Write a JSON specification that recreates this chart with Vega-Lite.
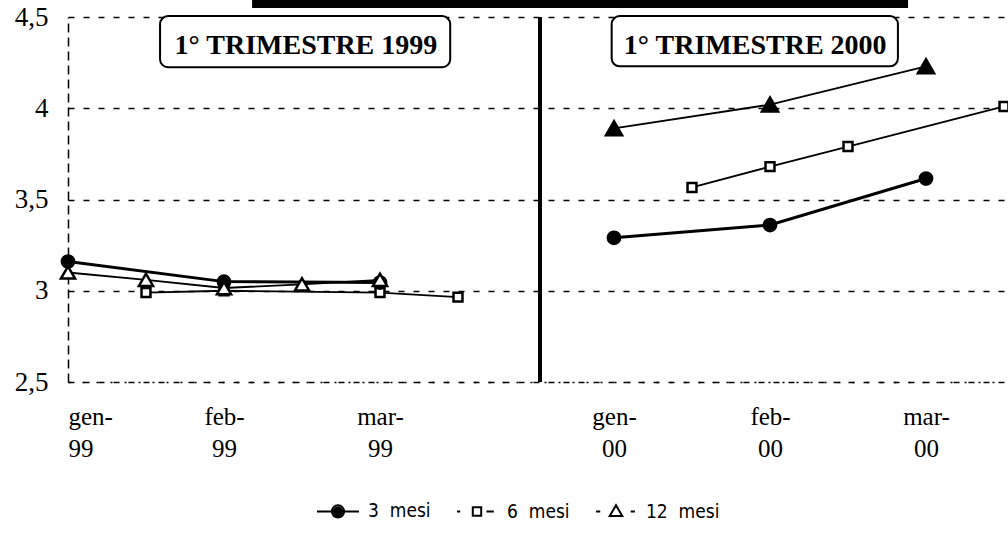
{
  "$schema": "https://vega.github.io/schema/vega-lite/v6.json",
  "width": 936,
  "height": 365,
  "autosize": {"type": "none"},
  "padding": {"left": 68, "top": 17, "right": 4, "bottom": 153},
  "background": "white",
  "config": {"view": {"stroke": null}, "font": "Liberation Serif"},
  "data": {
    "values": [
      {"serie": "6 mesi", "anno": "1999", "t": 1, "v": 2.99},
      {"serie": "6 mesi", "anno": "1999", "t": 2, "v": 3.0},
      {"serie": "6 mesi", "anno": "1999", "t": 4, "v": 2.99},
      {"serie": "6 mesi", "anno": "1999", "t": 5, "v": 2.965},
      {"serie": "6 mesi", "anno": "2000", "t": 8, "v": 3.566},
      {"serie": "6 mesi", "anno": "2000", "t": 9, "v": 3.68},
      {"serie": "6 mesi", "anno": "2000", "t": 10, "v": 3.79},
      {"serie": "6 mesi", "anno": "2000", "t": 12, "v": 4.01},
      {"serie": "3 mesi", "anno": "1999", "t": 0, "v": 3.16},
      {"serie": "3 mesi", "anno": "1999", "t": 2, "v": 3.05},
      {"serie": "3 mesi", "anno": "1999", "t": 4, "v": 3.045},
      {"serie": "3 mesi", "anno": "2000", "t": 7, "v": 3.29},
      {"serie": "3 mesi", "anno": "2000", "t": 9, "v": 3.36},
      {"serie": "3 mesi", "anno": "2000", "t": 11, "v": 3.615},
      {"serie": "12 mesi", "anno": "1999", "t": 0, "v": 3.1},
      {"serie": "12 mesi", "anno": "1999", "t": 1, "v": 3.06},
      {"serie": "12 mesi", "anno": "1999", "t": 2, "v": 3.015},
      {"serie": "12 mesi", "anno": "1999", "t": 3, "v": 3.035},
      {"serie": "12 mesi", "anno": "1999", "t": 4, "v": 3.06},
      {"serie": "12 mesi", "anno": "2000", "t": 7, "v": 3.89},
      {"serie": "12 mesi", "anno": "2000", "t": 9, "v": 4.02},
      {"serie": "12 mesi", "anno": "2000", "t": 11, "v": 4.23}
    ]
  },
  "layer": [
    {
      "mark": {"type": "line", "color": "black"},
      "encoding": {
        "x": {
          "field": "t", "type": "quantitative",
          "scale": {"domain": [0, 12], "nice": false, "zero": false},
          "axis": {
            "title": null,
            "values": [0, 2, 4, 7, 9, 11],
            "labelExpr": "datum.value==0?['gen-','99']:datum.value==2?['feb-','99']:datum.value==4?['mar-','99']:datum.value==7?['gen-','00']:datum.value==9?['feb-','00']:['mar-','00']",
            "labelFont": "Liberation Serif",
            "labelFontSize": 25,
            "labelLineHeight": 32,
            "labelColor": "black",
            "labelPadding": 22,
            "labelFlush": true,
            "ticks": false,
            "grid": false,
            "domainColor": "black",
            "domainDash": [2, 12],
            "domainWidth": 1.5
          }
        },
        "y": {
          "field": "v", "type": "quantitative",
          "scale": {"domain": [2.5, 4.5], "nice": false, "zero": false},
          "axis": {
            "title": null,
            "values": [2.5, 3, 3.5, 4, 4.5],
            "labelExpr": "replace(toString(datum.value), '.', ',')",
            "labelFont": "Liberation Serif",
            "labelFontSize": 27,
            "labelColor": "black",
            "labelPadding": 20,
            "ticks": false,
            "domainColor": "black",
            "domainDash": [9, 5],
            "domainWidth": 1.5,
            "grid": true,
            "gridColor": "black",
            "gridDash": [6, 9],
            "gridWidth": 1.5
          }
        },
        "detail": [{"field": "serie", "type": "nominal"}, {"field": "anno", "type": "nominal"}],
        "strokeWidth": {
          "condition": {"test": "datum.serie === '3 mesi'", "value": 3},
          "value": 1.8
        }
      }
    },
    {
      "mark": {"type": "rule", "color": "black", "strokeWidth": 2.5},
      "encoding": {"x": {"datum": 6.05}}
    },
    {
      "data": {"values": [{"k": 1}]},
      "mark": {"type": "rule", "color": "black", "strokeWidth": 8, "clip": false},
      "encoding": {"x": {"datum": 2.36}, "x2": {"datum": 10.77}, "y": {"datum": 4.571}}
    },
    {
      "data": {"values": [{"k": 1}]},
      "mark": {"type": "rect", "fill": "white", "stroke": "black", "strokeWidth": 2, "cornerRadius": 8},
      "encoding": {"x": {"datum": 1.18}, "x2": {"datum": 4.9}, "y": {"datum": 4.505}, "y2": {"datum": 4.225}}
    },
    {
      "data": {"values": [{"k": 1}]},
      "mark": {"type": "rect", "fill": "white", "stroke": "black", "strokeWidth": 2, "cornerRadius": 8},
      "encoding": {"x": {"datum": 6.97}, "x2": {"datum": 10.64}, "y": {"datum": 4.505}, "y2": {"datum": 4.23}}
    },
    {
      "data": {"values": [{"testo": "1° TRIMESTRE 1999"}]},
      "mark": {"type": "text", "font": "Liberation Serif", "fontWeight": "bold", "fontSize": 28, "baseline": "alphabetic", "align": "center", "color": "black"},
      "encoding": {"x": {"datum": 3.05}, "y": {"datum": 4.3}, "text": {"field": "testo"}}
    },
    {
      "data": {"values": [{"testo": "1° TRIMESTRE 2000"}]},
      "mark": {"type": "text", "font": "Liberation Serif", "fontWeight": "bold", "fontSize": 28, "baseline": "alphabetic", "align": "center", "color": "black"},
      "encoding": {"x": {"datum": 8.81}, "y": {"datum": 4.3}, "text": {"field": "testo"}}
    },
    {
      "mark": {"type": "point", "filled": false, "stroke": "black", "strokeWidth": 2.5, "opacity": 1},
      "encoding": {
        "x": {"field": "t", "type": "quantitative"},
        "y": {"field": "v", "type": "quantitative"},
        "shape": {
          "field": "serie", "type": "nominal",
          "scale": {"domain": ["3 mesi", "6 mesi", "12 mesi"], "range": ["circle", "square", "triangle-up"]},
          "legend": null
        },
        "size": {
          "condition": [
            {"test": "datum.serie === '12 mesi' && datum.t > 6", "value": 260},
            {"test": "datum.serie === '12 mesi'", "value": 200},
            {"test": "datum.serie === '6 mesi'", "value": 80}
          ],
          "value": 150
        },
        "fill": {
          "condition": {"test": "datum.serie === '3 mesi' || (datum.serie === '12 mesi' && datum.t > 6)", "value": "black"},
          "value": "white"
        }
      }
    },
    {
      "mark": {"type": "point", "filled": false, "opacity": 0, "stroke": "black"},
      "encoding": {
        "x": {"field": "t", "type": "quantitative"},
        "y": {"field": "v", "type": "quantitative"},
        "shape": {
          "field": "serie", "type": "nominal",
          "scale": {
            "domain": ["3 mesi", "6 mesi", "12 mesi"],
            "range": [
              "M-1,0H1M-0.29,0A0.29,0.29,0,1,1,0.29,0A0.29,0.29,0,1,1,-0.29,0ZM-0.19,0A0.19,0.19,0,1,1,0.19,0A0.19,0.19,0,1,1,-0.19,0ZM-0.1,0A0.1,0.1,0,1,1,0.1,0A0.1,0.1,0,1,1,-0.1,0ZM-0.03,0A0.03,0.03,0,1,1,0.03,0A0.03,0.03,0,1,1,-0.03,0Z",
              "M-0.95,0H-0.8M0.45,0H0.8M-0.2,-0.2H0.2V0.2H-0.2Z",
              "M-0.95,0H-0.75M0.7,0H0.9M0,-0.3L0.3,0.22H-0.3Z"
            ]
          },
          "legend": {
            "title": null,
            "orient": "none",
            "direction": "horizontal",
            "legendX": 248,
            "legendY": 472,
            "symbolSize": 1764,
            "symbolOpacity": 1,
            "symbolStrokeColor": "black",
            "symbolStrokeWidth": 2,
            "labelFont": "DejaVu Sans Condensed",
            "labelFontSize": 19,
            "labelColor": "black",
            "labelOffset": 8,
            "columnPadding": 22,
            "labelExpr": "replace(datum.label, ' ', '\u00a0\u00a0')"
          }
        }
      }
    }
  ],
  "resolve": {"scale": {"shape": "independent"}}
}
